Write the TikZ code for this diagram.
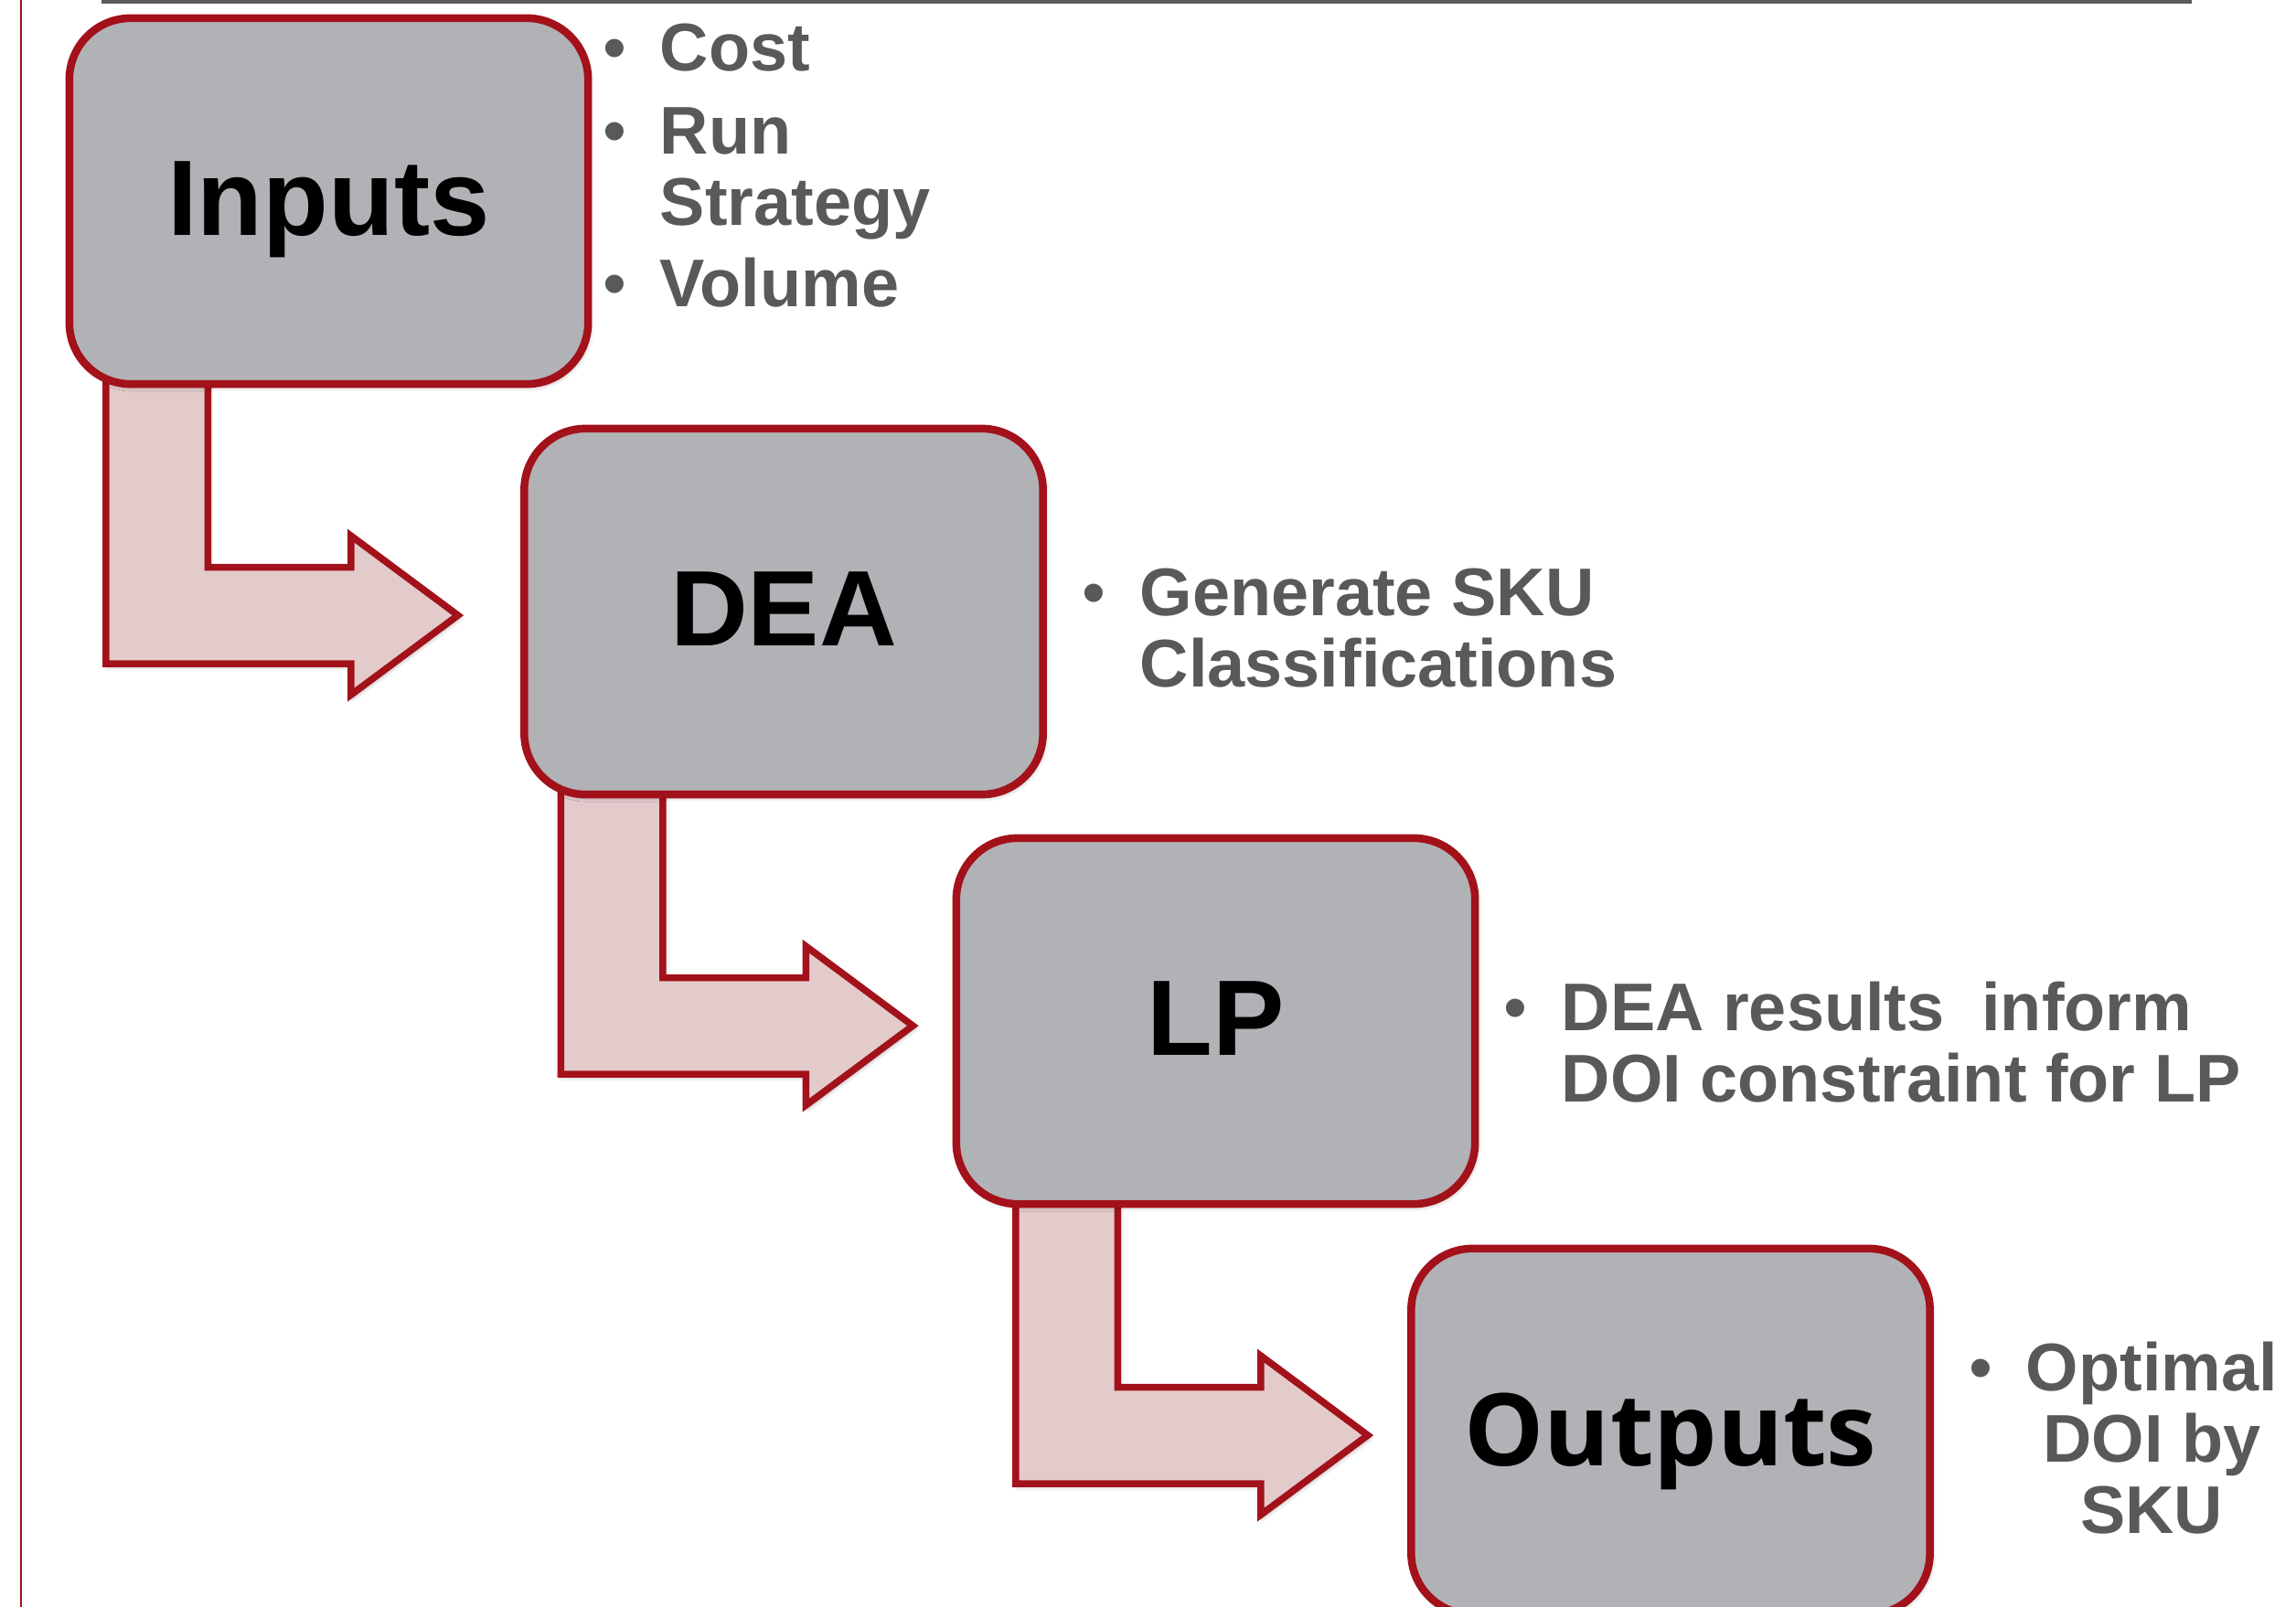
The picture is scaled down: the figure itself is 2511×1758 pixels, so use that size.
\documentclass[tikz,border=0pt]{standalone}
\usepackage{fontspec}
\setmainfont{Liberation Sans}
\newfontfamily\outputsfont{Open Sans}
\usepackage{xcolor}
\usepackage{tikz}
\usetikzlibrary{positioning, calc, backgrounds, shadows.blur}

\definecolor{stagered}{HTML}{A3111A}
\definecolor{stagegray}{HTML}{B1B2B6}
\definecolor{flowpink}{HTML}{E3CBCC}
\definecolor{notegray}{HTML}{58595B}
\definecolor{rulegray}{HTML}{5B5C60}

\newcommand{\notebullet}{{\mdseries\textbullet}}

\begin{document}
\begin{tikzpicture}[
        x=0.01cm, y=-0.01cm,
        stage/.style={rectangle, draw=stagered, line width=0.085cm, rounded corners=0.67cm, fill=stagegray, minimum width=5.67cm, minimum height=4cm, inner sep=0pt, outer sep=0pt, text height=0.84cm, text depth=0.1cm, font=\fontsize{33.4}{40}\selectfont\bfseries, blur shadow={shadow xshift=0.02cm, shadow yshift=-0.03cm, shadow blur radius=0.05cm, shadow opacity=35}},
        flow/.style={draw=stagered, line width=0.075cm, fill=flowpink, miter limit=4, blur shadow={shadow xshift=0.02cm, shadow yshift=-0.03cm, shadow blur radius=0.05cm, shadow opacity=35}},
        notes/.style={anchor=base west, inner sep=0pt, outer sep=0pt, text=notegray, font=\fontsize{21}{22.2}\selectfont\bfseries}
    ]
    \useasboundingbox (0,0) rectangle (2511,1758);

    % Page rules
    \fill[rulegray] (111,0) rectangle (2397,4.5);
    \draw[stagered, line width=0.02cm] (23,0) -- (23,1758);

    % Stages, stepping down to the right
    \node (inputs) [stage] at (359.5,220) {Inputs};
    \node (dea) [stage] at (857,669) {DEA};
    \node (lp) [stage] at (1329.5,1117) {LP};
    \node (outputs) [stage] at (1827,1566) {\fontsize{31.2}{38}\selectfont\outputsfont Outputs};

    % Notes beside each stage
    \node (inputs-notes) [notes] at (659,78) {\begin{tabular}[t]{@{}l@{\hspace{0.37cm}}l@{}}
        \notebullet & Cost\\[0.12cm]
        \notebullet & Run\\
                    & Strategy\\[0.11cm]
        \notebullet & Volume
    \end{tabular}};
    \node (dea-notes) [notes] at (1183,673) {\begin{tabular}[t]{@{}l@{\hspace{0.38cm}}l@{}}
        \notebullet & Generate SKU\\
                    & Classifications
    \end{tabular}};
    \node (lp-notes) [notes] at (1644,1127) {\begin{tabular}[t]{@{}l@{\hspace{0.38cm}}l@{}}
        \notebullet & DEA results\ \ inform\\
                    & DOI constraint for LP
    \end{tabular}};
    \node (outputs-notes) [notes] at (2153,1521) {\begin{tabular}[t]{@{}l@{\hspace{0.37cm}}c@{}}
        \notebullet & Optimal\\
                    & DOI by\\
                    & SKU
    \end{tabular}};

    % Bent arrows, tucked under the stages
    \begin{scope}[on background layer]
        \draw[flow] ([shift={(40,-16)}]inputs.south west) -- ++(0,322) -- ++(268,0) -- ++(0,34) -- ++(117,-87) -- ++(-117,-87) -- ++(0,34.5) -- ++(-156.5,0) -- ++(0,-216.5) -- cycle;
        \draw[flow] ([shift={(40,-16)}]dea.south west) -- ++(0,322) -- ++(268,0) -- ++(0,34) -- ++(117,-87) -- ++(-117,-87) -- ++(0,34.5) -- ++(-156.5,0) -- ++(0,-216.5) -- cycle;
        \draw[flow] ([shift={(65,-16)}]lp.south west) -- ++(0,322) -- ++(268,0) -- ++(0,34) -- ++(117,-87) -- ++(-117,-87) -- ++(0,34.5) -- ++(-156.5,0) -- ++(0,-216.5) -- cycle;
    \end{scope}

\end{tikzpicture}
\end{document}
